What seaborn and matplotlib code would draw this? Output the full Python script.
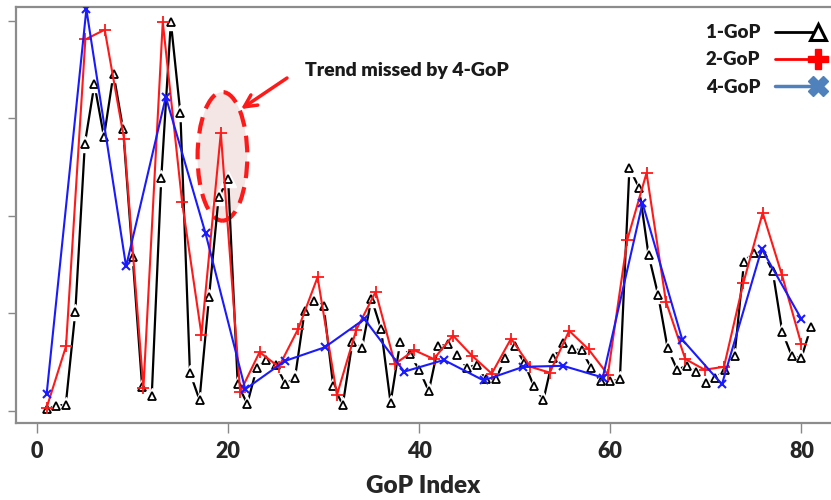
import numpy as np
import pandas as pd
import matplotlib
matplotlib.use('Agg')
import matplotlib.pyplot as plt
from matplotlib.patches import Ellipse
from matplotlib.lines import Line2D
from matplotlib.legend_handler import HandlerLine2D
import seaborn as sns

sns.set_theme(style='white')
plt.rcParams['font.family'] = ['Lato', 'DejaVu Sans']

# values (y axis has no labels, 1 unit = 1 tick step)
gop1 = [0.02, 0.05, 0.06, 1.01, 2.74, 3.35, 2.81, 3.46, 2.89, 1.58,
        0.24, 0.15, 2.39, 3.99, 3.05, 0.39, 0.11, 1.17, 2.19, 2.38,
        0.27, 0.07, 0.44, 0.52, 0.47, 0.27, 0.34, 1.02, 1.13, 1.07,
        0.25, 0.06, 0.70, 0.64, 1.15, 0.84, 0.08, 0.70, 0.58, 0.42,
        0.20, 0.66, 0.68, 0.57, 0.44, 0.47, 0.32, 0.32, 0.54, 0.66,
        0.49, 0.25, 0.11, 0.54, 0.69, 0.63, 0.62, 0.44, 0.30, 0.30,
        0.32, 2.49, 2.29, 1.60, 1.19, 0.64, 0.42, 0.46, 0.40, 0.28,
        0.33, 0.42, 0.56, 1.53, 1.62, 1.62, 1.43, 0.81, 0.56, 0.54,
        0.86]
gop2 = [0.03, 0.66, 3.81, 3.91, 2.79, 0.23, 3.99, 2.14, 0.78, 2.85,
        0.19, 0.60, 0.45, 0.84, 1.37, 0.16, 0.83, 1.22, 0.48, 0.62,
        0.53, 0.77, 0.56, 0.38, 0.74, 0.45, 0.39, 0.82, 0.63, 0.37,
        1.75, 2.44, 1.12, 0.53, 0.42, 0.45, 1.31, 2.03, 1.39, 0.68]
gop4 = [0.17, 4.12, 1.48, 3.22, 1.82, 0.22, 0.51, 0.65, 0.94, 0.40,
        0.52, 0.31, 0.45, 0.46, 0.34, 2.13, 0.73, 0.27, 1.66, 0.94]

# GoP index positions: the coarser series are spread over the same span
idx1 = np.arange(1, len(gop1) + 1)
idx2 = np.linspace(1, 80, len(gop2))
idx4 = np.linspace(1, 80, len(gop4))

x_ticks = [0, 20, 40, 60, 80]
labels = ['1-GoP', '2-GoP', '4-GoP']
note = 'Trend missed by 4-GoP'

df1 = pd.DataFrame({'GoP': idx1, 'val': gop1})
df2 = pd.DataFrame({'GoP': idx2, 'val': gop2})
df4 = pd.DataFrame({'GoP': idx4, 'val': gop4})

fig = plt.figure(figsize=(8.31, 5.0), dpi=100)
ax = fig.add_axes([0.019, 0.1534, 0.981, 0.832])

RED = '#ff1a1a'
BLUE = '#1a1aff'

# 1-GoP: black line broken around open triangles
sns.lineplot(data=df1, x='GoP', y='val', ax=ax, color='black', lw=1.6,
             sort=False, estimator=None, zorder=2)
ax.plot(df1['GoP'], df1['val'], ls='none', marker='^', ms=11,
        mfc='white', mec='white', mew=1, zorder=2.1)
ax.plot(df1['GoP'], df1['val'], ls='none', marker='^', ms=6,
        mfc='white', mec='black', mew=1.3, zorder=2.2)

sns.lineplot(data=df2, x='GoP', y='val', ax=ax, color=RED, lw=1.5,
             marker='+', ms=8, mew=1.3, mec=RED,
             sort=False, estimator=None, zorder=3)
sns.lineplot(data=df4, x='GoP', y='val', ax=ax, color=BLUE, lw=1.5,
             marker='x', ms=6, mew=1.5, mec=BLUE,
             sort=False, estimator=None, zorder=4)

# highlighted region + annotation
ell = Ellipse((19.4, 2.61), width=5.2, height=1.32, facecolor='#f5e6e6',
              edgecolor=RED, lw=3, linestyle=(0, (4, 2.2)), zorder=1)
ax.add_patch(ell)
ax.annotate('', xy=(21.1, 3.08), xytext=(26.4, 3.43),
            arrowprops=dict(arrowstyle='->', color=RED, lw=2.5,
                            mutation_scale=22))
ax.text(28.0, 3.49, note, fontsize=14, fontweight='heavy', color='#1a1a1a',
        va='center', ha='left')

ax.set_xlim(-2.23, 83.1)
ax.set_ylim(-0.13, 4.14)
ax.set_xticks(x_ticks)
ax.set_yticks([0, 1, 2, 3, 4])
ax.set_yticklabels([])
ax.tick_params(axis='x', bottom=True, length=7, width=1, color='#888888',
               labelsize=15.5, pad=6)
ax.tick_params(axis='y', left=True, length=6, width=1, color='#888888')
for lab in ax.get_xticklabels():
    lab.set_fontweight('heavy')
ax.set_xlabel('GoP Index', fontsize=17.5, fontweight='heavy', labelpad=9)
ax.set_ylabel('')
for side in ['left', 'bottom', 'top']:
    ax.spines[side].set_color('#8c8c8c')
    ax.spines[side].set_linewidth(1.6)
ax.spines['right'].set_visible(False)


class EndMarker(HandlerLine2D):
    # marker only at the right end of the legend line
    def create_artists(self, *args, **kwargs):
        arts = super().create_artists(*args, **kwargs)
        for a in arts:
            if a.get_marker() not in (None, 'None', ''):
                a.set_markevery([len(a.get_xdata()) - 1])
        return arts


handles = [
    Line2D([], [], color='black', lw=2, marker='^', ms=12, mfc='white',
           mec='black', mew=2.2),
    Line2D([], [], color='#ff0000', lw=2, marker='P', ms=14, mfc='#ff0000',
           mec='#ff0000'),
    Line2D([], [], color='#4f81bd', lw=2.5, marker='X', ms=14,
           mfc='#4f81bd', mec='#4f81bd'),
]
leg = ax.legend(handles, labels, loc='upper right',
                bbox_to_anchor=(1.012, 1.0), frameon=False, markerfirst=False,
                numpoints=2, handlelength=2.9, handletextpad=0.5,
                labelspacing=0.55, prop=dict(size=13.5, weight='heavy'),
                handler_map={Line2D: EndMarker()})
for t in leg.get_texts():
    t.set_color('#1a1a1a')

fig.savefig('out.png', dpi=100)
